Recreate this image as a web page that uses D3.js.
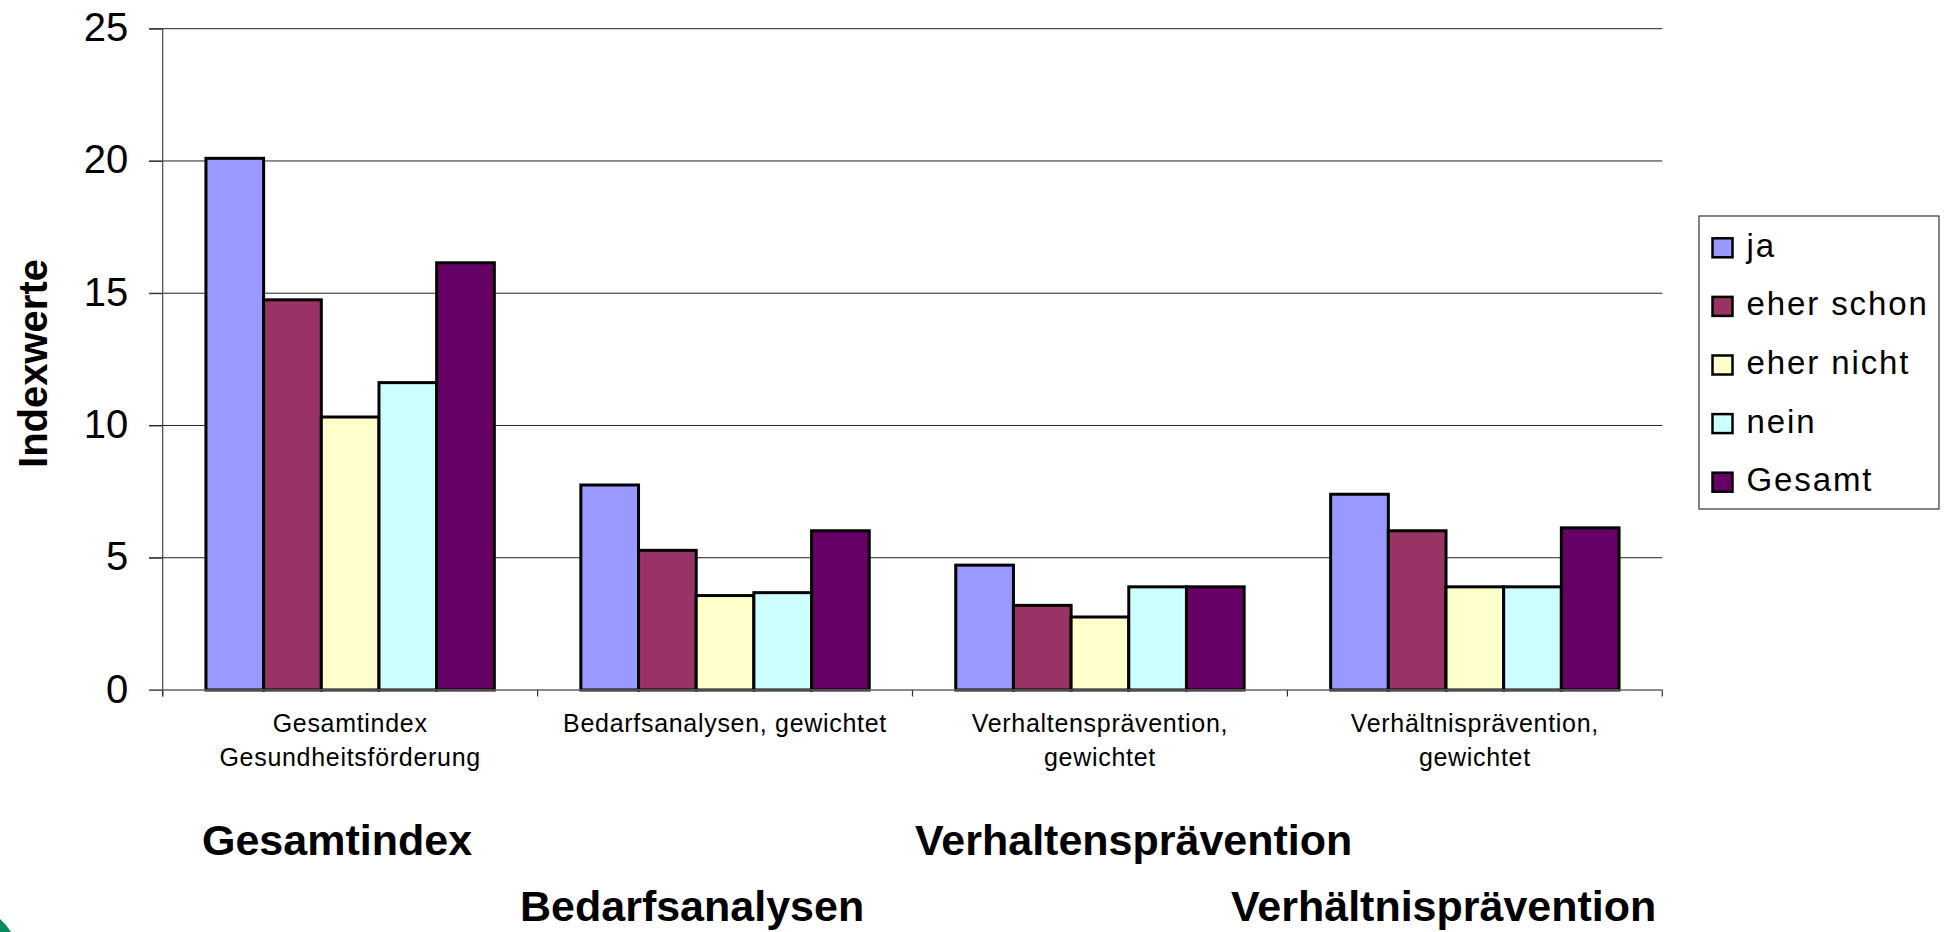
<!DOCTYPE html>
<html>
<head>
<meta charset="utf-8">
<script src="https://cdn.jsdelivr.net/npm/d3@7"></script>
<style>
  html, body { margin: 0; padding: 0; background: #fff; }
  svg { display: block; font-family: "Liberation Sans", Arial, sans-serif; }
</style>
</head>
<body>
<svg id="chart" width="1950" height="932"></svg>
<script>
// ---- Data ----
const categories = [
  "Gesamtindex Gesundheitsförderung",
  "Bedarfsanalysen, gewichtet",
  "Verhaltensprävention, gewichtet",
  "Verhältnisprävention, gewichtet"
];
const categoryLines = [
  ["Gesamtindex", "Gesundheitsförderung"],
  ["Bedarfsanalysen, gewichtet"],
  ["Verhaltensprävention,", "gewichtet"],
  ["Verhältnisprävention,", "gewichtet"]
];
const seriesNames = ["ja", "eher schon", "eher nicht", "nein", "Gesamt"];
const ja        = [20.1, 7.75, 4.72, 7.4];
const eherSchon = [14.75, 5.28, 3.2, 6.02];
const eherNicht = [10.32, 3.57, 2.76, 3.9];
const nein      = [11.62, 3.68, 3.9, 3.9];
const gesamt    = [16.15, 6.02, 3.9, 6.13];
const seriesColors = ["#9999FF", "#993366", "#FFFFCC", "#CCFFFF", "#660066"];
const yTicks = [0, 5, 10, 15, 20, 25];
const yTitle = "Indexwerte";
const sectionLabels = ["Gesamtindex", "Bedarfsanalysen", "Verhaltensprävention", "Verhältnisprävention"];

const seriesValues = [ja, eherSchon, eherNicht, nein, gesamt];

// ---- Layout ----
const svg = d3.select("#chart");
const plotLeft = 162.7, plotRight = 1662.3, plotTop = 28.7, plotBottom = 690;

const x0 = d3.scaleBand().domain(d3.range(categories.length)).range([plotLeft, plotRight]).padding(0);
const x1 = d3.scaleBand().domain(seriesNames).range([0, x0.bandwidth()]).paddingInner(0).paddingOuter(0.75);
const y = d3.scaleLinear().domain([0, 25]).range([plotBottom, plotTop]);

// gridlines
svg.append("g").selectAll("line")
  .data(yTicks.filter(d => d > 0))
  .join("line")
  .attr("x1", 149).attr("x2", plotRight)
  .attr("y1", d => y(d)).attr("y2", d => y(d))
  .attr("stroke", "#222").attr("stroke-width", 1);

// y axis with tick marks and labels
const yAxis = d3.axisLeft(y).tickValues(yTicks).tickSize(13.7).tickPadding(20.7);
const gy = svg.append("g").attr("transform", `translate(${plotLeft},0)`).call(yAxis);
gy.select(".domain").remove();
gy.selectAll(".tick line").attr("stroke", "#333");
gy.selectAll(".tick text")
  .attr("font-size", 40).attr("fill", "#000")
  .attr("font-family", "'Liberation Sans', Arial, sans-serif")
  .attr("dy", "0.3em");

// bars
const groups = svg.append("g").selectAll("g")
  .data(categories.map((c, i) => i))
  .join("g")
  .attr("transform", i => `translate(${x0(i)},0)`);
groups.selectAll("rect")
  .data(i => seriesNames.map((s, k) => ({ s, k, v: seriesValues[k][i] })))
  .join("rect")
  .attr("x", d => x1(d.s))
  .attr("width", x1.bandwidth())
  .attr("y", d => y(d.v))
  .attr("height", d => y(0) - y(d.v))
  .attr("fill", d => seriesColors[d.k])
  .attr("stroke", "#000")
  .attr("stroke-width", 3);

// axes lines
svg.append("line").attr("x1", plotLeft).attr("x2", plotLeft).attr("y1", plotTop).attr("y2", plotBottom + 6.5)
  .attr("stroke", "#444").attr("stroke-width", 1.2);
svg.append("line").attr("x1", 149).attr("x2", plotRight).attr("y1", plotBottom).attr("y2", plotBottom)
  .attr("stroke", "#666").attr("stroke-width", 1.5);

// x tick marks at category boundaries
const boundaries = x0.domain().map(d => x0(d)).concat([x0.range()[1]]);
svg.append("g").selectAll("line")
  .data(boundaries)
  .join("line")
  .attr("x1", d => d).attr("x2", d => d)
  .attr("y1", plotBottom).attr("y2", plotBottom + 6.5)
  .attr("stroke", "#333").attr("stroke-width", 1.2);

// category labels
const catText = svg.append("g").selectAll("text")
  .data(categoryLines)
  .join("text")
  .attr("text-anchor", "middle")
  .attr("font-size", 25)
  .attr("letter-spacing", 0.7)
  .attr("fill", "#000");
catText.selectAll("tspan")
  .data((lines, i) => lines.map((l, j) => ({ l, j, i })))
  .join("tspan")
  .attr("x", d => x0(d.i) + x0.bandwidth() / 2)
  .attr("y", d => 732 + d.j * 34)
  .text(d => d.l);

// y axis title
svg.append("text")
  .attr("transform", "translate(46.5,363.5) rotate(-90)")
  .attr("text-anchor", "middle")
  .attr("font-size", 40)
  .attr("font-weight", "bold")
  .attr("fill", "#000")
  .text(yTitle);

// legend
const lg = svg.append("g");
lg.append("rect").attr("x", 1699).attr("y", 216).attr("width", 240).attr("height", 293)
  .attr("fill", "#fff").attr("stroke", "#333").attr("stroke-width", 1.2);
const items = lg.selectAll("g.item").data(seriesNames).join("g").attr("class", "item")
  .attr("transform", (d, i) => `translate(0,${247.8 + i * 58.6})`);
items.append("rect")
  .attr("x", 1712.5).attr("y", -9.5).attr("width", 20).attr("height", 19)
  .attr("fill", (d, i) => seriesColors[i]).attr("stroke", "#000").attr("stroke-width", 2.5);
items.append("text")
  .attr("x", 1746.5).attr("y", 9)
  .attr("font-size", 33).attr("letter-spacing", 1.9).attr("fill", "#000")
  .text(d => d);

// section labels below
const secPos = [[202, 855], [520, 921], [915, 855], [1231, 921]];
svg.append("g").selectAll("text")
  .data(sectionLabels)
  .join("text")
  .attr("x", (d, i) => secPos[i][0])
  .attr("y", (d, i) => secPos[i][1])
  .attr("font-size", 43)
  .attr("font-weight", "bold")
  .attr("fill", "#000")
  .text(d => d);

// small green logo fragment bottom-left
svg.append("path")
  .attr("d", "M0,919 Q7,925 11,932 L0,932 Z")
  .attr("fill", "#0a8a5c");
</script>
</body>
</html>
